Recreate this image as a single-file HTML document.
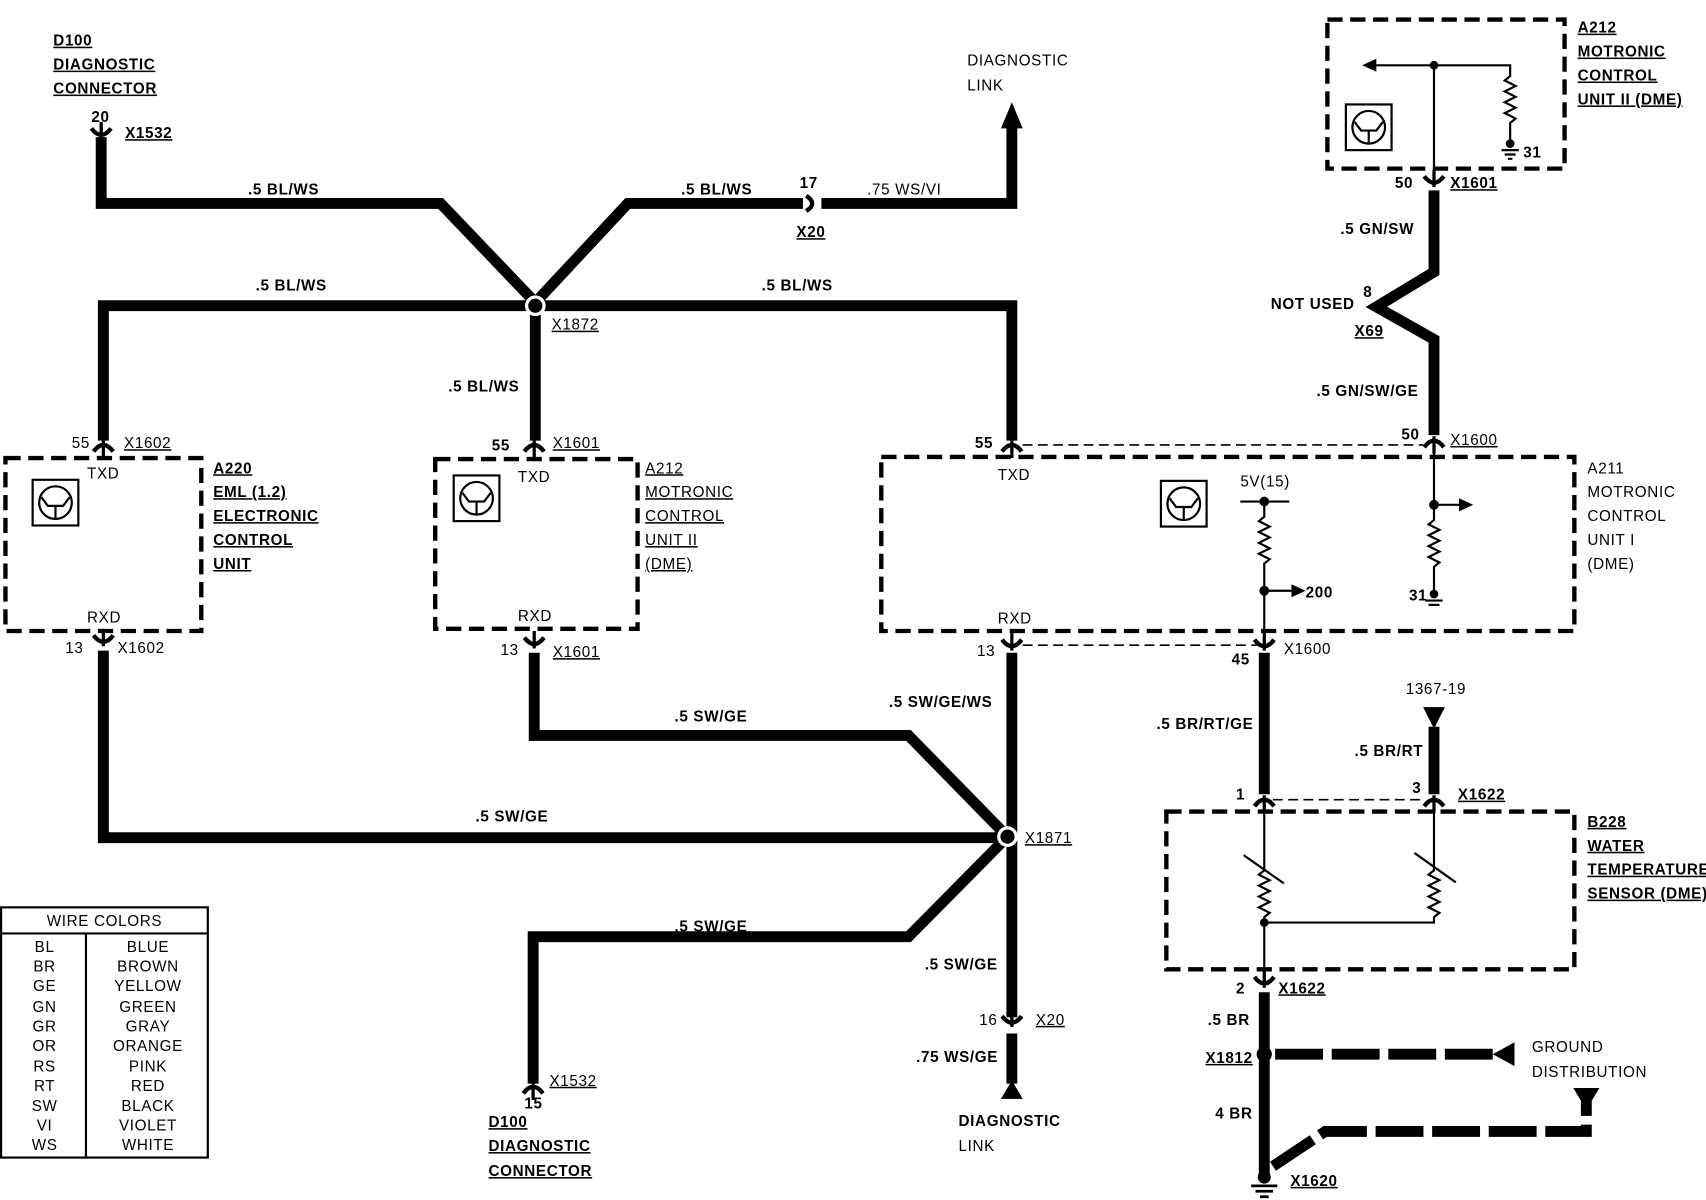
<!DOCTYPE html>
<html><head><meta charset="utf-8"><style>
html,body{margin:0;padding:0;background:#fff;overflow:hidden}
svg{display:block}
text{font-family:"Liberation Sans",sans-serif;font-weight:bold;font-size:14px;fill:#000;letter-spacing:0.6px}
.u{text-decoration:underline}
.n{font-weight:normal}
</style></head><body>
<svg width="1706" height="1200" viewBox="0 0 1568 1103" preserveAspectRatio="none" xmlns="http://www.w3.org/2000/svg">
<defs>
<g id="cd"><path d="M-9,6 Q0,-6 9,6" fill="none" stroke="#000" stroke-width="4"/><line x1="0" y1="-4" x2="0" y2="12" stroke="#000" stroke-width="3"/></g>
<g id="cu"><path d="M-9,-6 Q0,6 9,-6" fill="none" stroke="#000" stroke-width="4"/><line x1="0" y1="4" x2="0" y2="-12" stroke="#000" stroke-width="3"/></g>
<g id="tr"><rect x="0" y="0" width="42" height="42" fill="none" stroke="#000" stroke-width="2"/><circle cx="21" cy="21" r="15" fill="none" stroke="#000" stroke-width="2"/><path d="M8,16 L14,24 L28,24 L34,16 M21,24 L21,35" fill="none" stroke="#000" stroke-width="2"/></g>
</defs>
<g fill="none" stroke="#000" stroke-width="10" stroke-linejoin="miter">
<path d="M93,126 V187 H405 L490,276"/>
<path d="M494,276 L577,187 H738"/>
<path d="M755,187 H930 V110"/>
<path d="M95,405 V281 H930 V405"/>
<path d="M492,281 V405"/>
<path d="M95,598 V770 H925"/>
<path d="M491,600 V676 H835 L925,768"/>
<path d="M930,600 V935"/>
<path d="M925,770 L835,861 H490 V996"/>
<path d="M930,950 V996"/>
<path d="M1318,175 V250 L1265,282 L1318,312 V400"/>
<path d="M1162,600 V730"/>
<path d="M1318,668 V730"/>
<path d="M1162,912 V1082"/>
</g>
<g fill="none" stroke="#000" stroke-width="10" stroke-dasharray="44,8">
<path d="M1172,969 H1375"/>
<path d="M1170,1072 L1218,1040 H1458 V1012"/>
</g>
<polygon points="1372,969 1392,958 1392,980" fill="#000"/>
<polygon points="1446,1000 1470,1000 1458,1020" fill="#000"/>
<polygon points="930,94 920,118 940,118" fill="#000"/>
<polygon points="930,993 920,1010 940,1010" fill="#000"/>
<polygon points="1308,650 1328,650 1318,670" fill="#000"/>
<path d="M741,180 Q752,187 741,194" fill="none" stroke="#000" stroke-width="4"/>
<circle cx="492" cy="281" r="8" fill="#000" stroke="#fff" stroke-width="3"/>
<circle cx="926" cy="769" r="8" fill="#000" stroke="#fff" stroke-width="3"/>
<circle cx="1162" cy="969" r="7" fill="#000"/>
<use href="#cu" x="93" y="124"/>
<use href="#cd" x="95" y="409"/>
<use href="#cd" x="491" y="409"/>
<use href="#cd" x="930" y="409"/>
<use href="#cd" x="1318" y="405"/>
<use href="#cu" x="95" y="590"/>
<use href="#cu" x="491" y="592"/>
<use href="#cu" x="930" y="594"/>
<use href="#cu" x="1162" y="594"/>
<use href="#cd" x="1162" y="735"/>
<use href="#cd" x="1318" y="735"/>
<use href="#cu" x="1162" y="904"/>
<use href="#cu" x="1318" y="168"/>
<use href="#cu" x="930" y="940"/>
<use href="#cd" x="490" y="999"/>
<g fill="none" stroke="#000" stroke-width="4" stroke-dasharray="14,7">
<rect x="5" y="421" width="180" height="159"/>
<rect x="400" y="422" width="186" height="156"/>
<rect x="810" y="420" width="637" height="160"/>
<rect x="1220" y="18" width="218" height="137"/>
<rect x="1072" y="746" width="375" height="145"/>
</g>
<g fill="none" stroke="#000" stroke-width="1.5" stroke-dasharray="9,5">
<path d="M940,409 H1308"/><path d="M940,593 H1155"/><path d="M1170,735 H1310"/>
</g>
<use href="#tr" x="30" y="441"/>
<use href="#tr" x="417" y="437"/>
<use href="#tr" x="1067" y="442"/>
<use href="#tr" x="1237" y="96"/>
<g fill="none" stroke="#000" stroke-width="2">
<path d="M1262,60 H1388 V70 l-5,4 l10,5 l-10,5 l10,5 l-10,5 l10,5 l-10,5 l10,5 l-5,4 V135"/>
<path d="M1318,60 V168"/>
<path d="M1380,138 H1396 M1383,142 H1393 M1386,146 H1390"/>
<path d="M1140,461 H1185"/>
<path d="M1162,461 V475 l-5,4 l10,5 l-10,5 l10,5 l-10,5 l10,5 l-10,5 l10,5 l-5,4 V590"/>
<path d="M1162,543 H1188"/>
<path d="M1318,412 V478 l-5,4 l10,5 l-10,5 l10,5 l-10,5 l10,5 l-10,5 l10,5 l-5,4 V546"/>
<path d="M1318,464 H1342"/>
<path d="M1310,552 H1326 M1313,556 H1323"/>
<path d="M1162,740 V800 l-5,4 l10,5 l-10,5 l10,5 l-10,5 l10,5 l-10,5 l10,5 l-5,4 V900"/>
<path d="M1318,740 V800 l-5,4 l10,5 l-10,5 l10,5 l-10,5 l10,5 l-10,5 l10,5 l-5,4 V848 H1162"/>
<path d="M1143,786 L1180,812 M1300,784 L1338,811"/>
<path d="M1150,1090 H1174 M1154,1095 H1170 M1158,1100 H1166" stroke-width="2.5"/>
</g>
<polygon points="1252,60 1265,54 1265,66" fill="#000"/>
<polygon points="1200,543 1187,537 1187,549" fill="#000"/>
<polygon points="1354,464 1341,458 1341,470" fill="#000"/>
<g fill="#000"><circle cx="1318" cy="60" r="4"/><circle cx="1388" cy="132" r="4"/><circle cx="1162" cy="461" r="4.5"/><circle cx="1162" cy="543" r="4.5"/><circle cx="1318" cy="464" r="4.5"/><circle cx="1318" cy="546" r="4"/><circle cx="1162" cy="848" r="4"/><circle cx="1162" cy="1082" r="6"/></g>
<g fill="none" stroke="#000" stroke-width="2">
<rect x="1" y="834" width="190" height="230"/><path d="M1,858 H191 M79,858 V1064"/>
</g>
<text x="96" y="851" text-anchor="middle" class="n">WIRE COLORS</text>
<g>
<text x="41" y="875" text-anchor="middle" class="n">BL</text><text x="136" y="875" text-anchor="middle" class="n">BLUE</text>
<text x="41" y="893" text-anchor="middle" class="n">BR</text><text x="136" y="893" text-anchor="middle" class="n">BROWN</text>
<text x="41" y="911" text-anchor="middle" class="n">GE</text><text x="136" y="911" text-anchor="middle" class="n">YELLOW</text>
<text x="41" y="930" text-anchor="middle" class="n">GN</text><text x="136" y="930" text-anchor="middle" class="n">GREEN</text>
<text x="41" y="948" text-anchor="middle" class="n">GR</text><text x="136" y="948" text-anchor="middle" class="n">GRAY</text>
<text x="41" y="966" text-anchor="middle" class="n">OR</text><text x="136" y="966" text-anchor="middle" class="n">ORANGE</text>
<text x="41" y="985" text-anchor="middle" class="n">RS</text><text x="136" y="985" text-anchor="middle" class="n">PINK</text>
<text x="41" y="1003" text-anchor="middle" class="n">RT</text><text x="136" y="1003" text-anchor="middle" class="n">RED</text>
<text x="41" y="1021" text-anchor="middle" class="n">SW</text><text x="136" y="1021" text-anchor="middle" class="n">BLACK</text>
<text x="41" y="1039" text-anchor="middle" class="n">VI</text><text x="136" y="1039" text-anchor="middle" class="n">VIOLET</text>
<text x="41" y="1057" text-anchor="middle" class="n">WS</text><text x="136" y="1057" text-anchor="middle" class="n">WHITE</text>
</g>
<text x="49" y="42" class="u">D100</text><text x="49" y="64" class="u">DIAGNOSTIC</text><text x="49" y="86" class="u">CONNECTOR</text>
<text x="84" y="112">20</text><text x="115" y="127" class="u">X1532</text>
<text x="228" y="179">.5 BL/WS</text><text x="626" y="179">.5 BL/WS</text><text x="797" y="179" class="n">.75 WS/VI</text>
<text x="735" y="173">17</text><text x="732" y="218" class="u">X20</text>
<text x="889" y="60" class="n">DIAGNOSTIC</text><text x="889" y="83" class="n">LINK</text>
<text x="235" y="267">.5 BL/WS</text><text x="700" y="267">.5 BL/WS</text><text x="412" y="360">.5 BL/WS</text>
<text x="507" y="303" class="u n">X1872</text>
<text x="66" y="412" class="n">55</text><text x="114" y="412" class="u n">X1602</text>
<text x="452" y="414">55</text><text x="508" y="412" class="u n">X1601</text>
<text x="896" y="412">55</text>
<text x="80" y="440" class="n">TXD</text><text x="80" y="572" class="n">RXD</text>
<text x="476" y="443" class="n">TXD</text><text x="476" y="571" class="n">RXD</text>
<text x="917" y="441" class="n">TXD</text><text x="917" y="573" class="n">RXD</text>
<text x="196" y="435" class="u">A220</text><text x="196" y="457" class="u">EML (1.2)</text><text x="196" y="479" class="u">ELECTRONIC</text><text x="196" y="501" class="u">CONTROL</text><text x="196" y="523" class="u">UNIT</text>
<text x="593" y="435" class="u n">A212</text><text x="593" y="457" class="u n">MOTRONIC</text><text x="593" y="479" class="u n">CONTROL</text><text x="593" y="501" class="u n">UNIT II</text><text x="593" y="523" class="u n">(DME)</text>
<text x="1459" y="435" class="n">A211</text><text x="1459" y="457" class="n">MOTRONIC</text><text x="1459" y="479" class="n">CONTROL</text><text x="1459" y="501" class="n">UNIT I</text><text x="1459" y="523" class="n">(DME)</text>
<text x="1450" y="30" class="u">A212</text><text x="1450" y="52" class="u">MOTRONIC</text><text x="1450" y="74" class="u">CONTROL</text><text x="1450" y="96" class="u">UNIT II (DME)</text>
<text x="1400" y="145">31</text>
<text x="1140" y="447" class="n">5V(15)</text><text x="1200" y="549">200</text><text x="1295" y="552">31</text>
<text x="1282" y="173">50</text><text x="1333" y="173" class="u">X1601</text>
<text x="1232" y="215">.5 GN/SW</text>
<text x="1168" y="284">NOT USED</text><text x="1253" y="273">8</text><text x="1245" y="309" class="u">X69</text>
<text x="1210" y="364">.5 GN/SW/GE</text>
<text x="1288" y="404">50</text><text x="1333" y="409" class="u n">X1600</text>
<text x="60" y="600" class="n">13</text><text x="108" y="600" class="n">X1602</text>
<text x="460" y="602" class="n">13</text><text x="508" y="604" class="u n">X1601</text>
<text x="898" y="603" class="n">13</text>
<text x="1132" y="611">45</text><text x="1180" y="601" class="n">X1600</text>
<text x="620" y="663">.5 SW/GE</text><text x="817" y="650">.5 SW/GE/WS</text>
<text x="437" y="755">.5 SW/GE</text><text x="942" y="775" class="u n">X1871</text>
<text x="620" y="856">.5 SW/GE</text><text x="850" y="891">.5 SW/GE</text>
<text x="900" y="942" class="n">16</text><text x="952" y="942" class="u n">X20</text>
<text x="842" y="976">.75 WS/GE</text>
<text x="881" y="1035">DIAGNOSTIC</text><text x="881" y="1058" class="n">LINK</text>
<text x="505" y="998" class="u n">X1532</text><text x="482" y="1019">15</text>
<text x="449" y="1036" class="u">D100</text><text x="449" y="1058" class="u">DIAGNOSTIC</text><text x="449" y="1081" class="u">CONNECTOR</text>
<text x="1063" y="670">.5 BR/RT/GE</text>
<text x="1292" y="638" class="n">1367-19</text><text x="1245" y="695">.5 BR/RT</text>
<text x="1136" y="735">1</text><text x="1298" y="729">3</text><text x="1340" y="735" class="u">X1622</text>
<text x="1459" y="760" class="u">B228</text><text x="1459" y="782" class="u">WATER</text><text x="1459" y="804" class="u">TEMPERATURE</text><text x="1459" y="826" class="u">SENSOR (DME)</text>
<text x="1136" y="913">2</text><text x="1175" y="913" class="u">X1622</text>
<text x="1110" y="942">.5 BR</text><text x="1108" y="977" class="u">X1812</text>
<text x="1408" y="967" class="n">GROUND</text><text x="1408" y="990" class="n">DISTRIBUTION</text>
<text x="1117" y="1028">4 BR</text><text x="1186" y="1090" class="u">X1620</text>
</svg>
</body></html>
